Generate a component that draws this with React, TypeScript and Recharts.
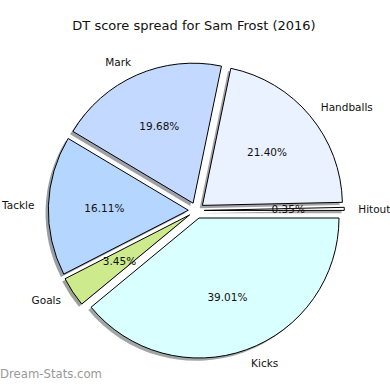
import React from 'react';
import { PieChart, Pie, Cell } from 'recharts';

const categories = ['Handballs', 'Hitout', 'Kicks', 'Goals', 'Tackle', 'Mark'];
const shares = [21.4, 0.35, 39.01, 3.45, 16.11, 19.68];
const colors = ['#eaf1ff', '#ffffff', '#d9ffff', '#cdea8d', '#b5d6ff', '#c4d9ff'];
const explode = [0.057, 0.057, 0.057, 0.057, 0.057, 0.057];
const title = 'DT score spread for Sam Frost (2016)';
const watermark = 'Dream-Stats.com';

const W = 390;
const H = 390;
const CX = 196.3;
const CY = 210.5;
const R = 140;
const START = 78.3;
const FONT = '"DejaVu Sans", sans-serif';

const data = categories.map((name, i) => ({ name, value: shares[i] }));
const total = shares.reduce((a, b) => a + b, 0);
const mids: number[] = [];
{
  let acc = 0;
  shares.forEach((v) => {
    mids.push(START - ((acc + v / 2) / total) * 360);
    acc += v;
  });
}

function offset(i: number): [number, number] {
  const a = (mids[i] * Math.PI) / 180;
  const d = explode[i] * R;
  return [d * Math.cos(a), -d * Math.sin(a)];
}

function shadowColor(hex: string): string {
  const n = parseInt(hex.slice(1), 16);
  const r = Math.round(((n >> 16) & 255) * 0.3);
  const g = Math.round(((n >> 8) & 255) * 0.3);
  const b = Math.round((n & 255) * 0.3);
  return `rgb(${r},${g},${b})`;
}

const renderLabel = (props: any) => {
  const i = props.index as number;
  const [dx, dy] = offset(i);
  const a = (mids[i] * Math.PI) / 180;
  const ox = CX + dx;
  const oy = CY + dy;
  const lx = ox + 1.1 * R * Math.cos(a);
  const ly = oy - 1.1 * R * Math.sin(a);
  const px = ox + 0.6 * R * Math.cos(a);
  const py = oy - 0.6 * R * Math.sin(a);
  const left = Math.cos(a) > 0;
  return (
    <g key={'lab' + i}>
      <text
        x={lx}
        y={ly}
        textAnchor={left ? 'start' : 'end'}
        dominantBaseline="central"
        fontFamily={FONT}
        fontSize={10.5}
        fill="#111"
      >
        {categories[i]}
      </text>
      <text
        x={px}
        y={py}
        textAnchor="middle"
        dominantBaseline="central"
        fontFamily={FONT}
        fontSize={10.5}
        fill="#111"
      >
        {shares[i].toFixed(2) + '%'}
      </text>
    </g>
  );
};

export default function App() {
  return (
    <div style={{ position: 'absolute', left: 0, top: 0, width: W, height: H, background: '#fff' }}>
      <PieChart width={W} height={H} margin={{ top: 0, right: 0, bottom: 0, left: 0 }}>
        {shares.map((_, i) => {
          const [dx, dy] = offset(i);
          return (
            <Pie
              key={'shadow' + i}
              data={data}
              dataKey="value"
              nameKey="name"
              cx={CX + dx - 2.8}
              cy={CY + dy + 2.8}
              innerRadius={0}
              outerRadius={R}
              startAngle={START}
              endAngle={START - 360}
              isAnimationActive={false}
              stroke="none"
            >
              {data.map((__, j) => (
                <Cell
                  key={j}
                  fill={j === i ? shadowColor(colors[i]) : 'none'}
                  fillOpacity={0.5}
                  stroke="none"
                />
              ))}
            </Pie>
          );
        })}
        {shares.map((_, i) => {
          const [dx, dy] = offset(i);
          return (
            <Pie
              key={'slice' + i}
              data={data}
              dataKey="value"
              nameKey="name"
              cx={CX + dx}
              cy={CY + dy}
              innerRadius={0}
              outerRadius={R}
              startAngle={START}
              endAngle={START - 360}
              isAnimationActive={false}
            >
              {data.map((__, j) => (
                <Cell
                  key={j}
                  fill={j === i ? colors[i] : 'none'}
                  stroke={j === i ? '#000' : 'none'}
                  strokeWidth={1}
                />
              ))}
            </Pie>
          );
        })}
        <Pie
          key="labels"
          data={data}
          dataKey="value"
          nameKey="name"
          cx={CX}
          cy={CY}
          innerRadius={0}
          outerRadius={R}
          startAngle={START}
          endAngle={START - 360}
          isAnimationActive={false}
          label={renderLabel}
          labelLine={false}
        >
          {data.map((__, j) => (
            <Cell key={j} fill="none" stroke="none" />
          ))}
        </Pie>
      </PieChart>
      <svg
        width={W}
        height={H}
        style={{ position: 'absolute', left: 0, top: 0, pointerEvents: 'none' }}
      >
        <text x={194} y={30} textAnchor="middle" fontFamily={FONT} fontSize={13} fill="#111">
          {title}
        </text>
        <text
          x={0}
          y={378}
          fontFamily={FONT}
          fontSize={12}
          fill="#999"
          textLength={102}
          lengthAdjust="spacingAndGlyphs"
        >
          {watermark}
        </text>
      </svg>
    </div>
  );
}
